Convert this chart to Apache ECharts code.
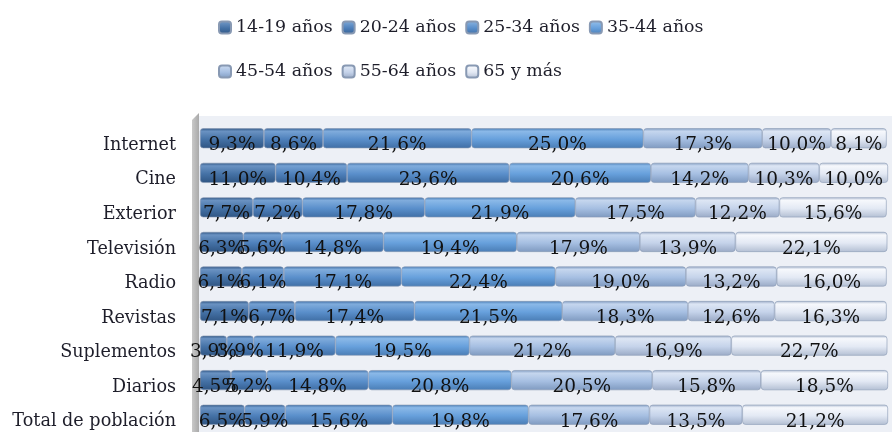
<!DOCTYPE html>
<html lang="es">
<head>
  <meta charset="UTF-8">
  <title>Audiencia por edad</title>
  <style>
    html, body { margin: 0; padding: 0; background: #fff; }
  </style>
</head>
<body>
  <div class="wrapper" style="width:892px;height:432px;"></div>

  <script src="https://cdn.jsdelivr.net/npm/echarts@6/dist/echarts.min.js"></script>
  <script>
    // categorias de arriba abajo
    const medios = ['Internet', 'Cine', 'Exterior', 'Televisión', 'Radio', 'Revistas', 'Suplementos', 'Diarios', 'Total de población']
    const edades = ['14-19 años', '20-24 años', '25-34 años', '35-44 años', '45-54 años', '55-64 años', '65 y más']

    // porcentajes por tramo de edad (mismo orden que medios)
    const e14_19 = [9.3, 11.0, 7.7, 6.3, 6.1, 7.1, 3.9, 4.5, 6.5]
    const e20_24 = [8.6, 10.4, 7.2, 5.6, 6.1, 6.7, 3.9, 5.2, 5.9]
    const e25_34 = [21.6, 23.6, 17.8, 14.8, 17.1, 17.4, 11.9, 14.8, 15.6]
    const e35_44 = [25.0, 20.6, 21.9, 19.4, 22.4, 21.5, 19.5, 20.8, 19.8]
    const e45_54 = [17.3, 14.2, 17.5, 17.9, 19.0, 18.3, 21.2, 20.5, 17.6]
    const e55_64 = [10.0, 10.3, 12.2, 13.9, 13.2, 12.6, 16.9, 15.8, 13.5]
    const e65 = [8.1, 10.0, 15.6, 22.1, 16.0, 16.3, 22.7, 18.5, 21.2]

    const valores = [e14_19, e20_24, e25_34, e35_44, e45_54, e55_64, e65]

    // tono base, claro (arriba) y oscuro (abajo) de cada serie
    const colores = [
      ['#4572a6', '#6a92c2', '#2f5583'],
      ['#4e80bb', '#74a0d2', '#355f92'],
      ['#5a8fcb', '#80acdc', '#3f6ea5'],
      ['#67a0dc', '#8bb9e8', '#4a7db5'],
      ['#a6bfe2', '#c5d6ee', '#7f9ac0'],
      ['#c5d3ea', '#dde6f4', '#9aaac6'],
      ['#e3e9f4', '#f6f8fc', '#b3bfd3']
    ]

    const serif = '"DejaVu Serif", "Liberation Serif", serif'

    const chart = echarts.init(document.querySelector('.wrapper'))

    const series = edades.map((nombre, i) => ({
      name: nombre,
      type: 'bar',
      stack: 'total',
      barWidth: 20,
      data: valores[i],
      itemStyle: {
        color: new echarts.graphic.LinearGradient(0, 0, 0, 1, [
          { offset: 0, color: colores[i][2] },
          { offset: 0.15, color: colores[i][1] },
          { offset: 0.55, color: colores[i][0] },
          { offset: 1, color: colores[i][2] }
        ]),
        borderColor: '#8899b3',
        borderWidth: 0.6,
        borderRadius: 3
      },
      label: {
        show: true,
        position: 'inside',
        offset: [0, 7],
        color: '#111',
        fontFamily: serif,
        fontSize: 18.5,
        formatter: p => p.value.toFixed(1).replace('.', ',') + '%'
      },
      emphasis: { disabled: true }
    }))

    const legendBase = {
      left: 213,
      itemWidth: 12,
      itemHeight: 12,
      itemGap: 9,
      icon: 'roundRect',
      textStyle: { fontFamily: serif, fontSize: 17.4, color: '#1e1e2a', padding: [0, 0, 0, 0] }
    }

    const option = {
      animation: false,
      backgroundColor: '#fff',
      legend: [
        Object.assign({ top: 14, data: edades.slice(0, 4) }, legendBase),
        Object.assign({ top: 58, data: edades.slice(4) }, legendBase)
      ],
      graphic: [
        {
          type: 'rect', silent: true, z: -10,
          shape: { x: 198, y: 116, width: 694, height: 320 },
          style: { fill: '#edf0f6' }
        },
        {
          type: 'polygon', silent: true, z: -9,
          shape: { points: [[192, 120], [199, 113], [199, 436], [192, 436]] },
          style: {
            fill: new echarts.graphic.LinearGradient(0, 0, 1, 0, [
              { offset: 0, color: '#c9c9c9' },
              { offset: 1, color: '#a9a9a9' }
            ])
          }
        }
      ],
      grid: { left: 200, right: 4, top: 121, bottom: -2 },
      xAxis: {
        type: 'value',
        min: 0,
        max: 100.1,
        show: false
      },
      yAxis: {
        type: 'category',
        data: medios,
        inverse: true,
        axisLine: { show: false },
        axisTick: { show: false },
        axisLabel: {
          margin: 24,
          color: '#1e1e2a',
          fontFamily: serif,
          fontSize: 17.6,
          verticalAlign: 'top',
          lineHeight: 14
        }
      },
      series: series
    }

    chart.setOption(option)
  </script>
</body>
</html>
